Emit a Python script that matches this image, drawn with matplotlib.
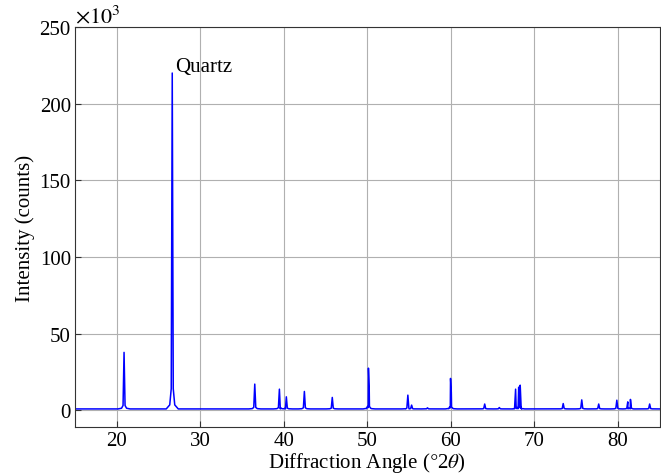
import numpy as np
import matplotlib
matplotlib.use("Agg")
import matplotlib.pyplot as plt

# ── Data (intensities in 10^3 counts) ─────────────────────────────────────────
BASELINE   = 0.8
peak_pos   = [20.87, 26.64, 36.52, 39.47, 40.30, 42.46, 45.80, 50.13, 50.22,
              54.85, 55.30, 57.20, 59.96, 60.05, 64.05, 65.80, 67.75, 68.12,
              68.30, 73.45, 75.67, 77.70, 79.87, 81.18, 81.50, 83.80]
peak_height = [37.7, 220.0, 17.0, 13.7, 8.7, 12.2, 8.3, 27.4, 15.0,
               9.8, 3.3, 1.5, 20.7, 11.7, 4.0, 1.7, 13.7, 15.0,
               16.3, 4.3, 6.7, 4.0, 6.5, 5.4, 7.0, 4.0]
X_MIN, X_MAX = 15, 85
# ──────────────────────────────────────────────────────────────────────────────

plt.rcParams["font.family"] = ["Liberation Serif", "DejaVu Serif"]
plt.rcParams["mathtext.fontset"] = "stix"


def build_trace(pos, height, base, hw=0.12):
    """Stick peaks turned into a polyline: base - foot - top - foot - base."""
    pts = [(X_MIN, base), (X_MAX, base)]
    for p, h in zip(pos, height):
        pts += [(p - 6 * hw, base), (p - 2.5 * hw, base + 0.012 * h),
                (p - hw, base + 0.06 * h), (p, h),
                (p + hw, base + 0.06 * h), (p + 2.5 * hw, base + 0.012 * h),
                (p + 6 * hw, base)]
    pts.sort(key=lambda t: t[0])
    xs = np.array([t[0] for t in pts])
    ys = np.array([t[1] for t in pts])
    return xs, ys


x, y = build_trace(peak_pos, peak_height, BASELINE)

fig = plt.figure(figsize=(6.61, 4.77), dpi=100)
ax = fig.add_axes([0.1135, 0.1027, 0.8845, 0.8385])

ax.plot(x, y, color="#0000ff", lw=1.1)
ax.text(27.0, 218.0, "Quartz", fontsize=15, ha="left", va="bottom")

ax.set_xlim(X_MIN, X_MAX)
ax.set_ylim(-11, 250)
ax.set_xticks([20, 30, 40, 50, 60, 70, 80])
ax.set_yticks([0, 50, 100, 150, 200, 250])
ax.tick_params(direction="in", labelsize=15, length=4, color="#333333", pad=3)
ax.grid(True, color="#b0b0b0", lw=0.8)
ax.set_axisbelow(True)
for s in ax.spines.values():
    s.set_color("#333333")

ax.set_xlabel(r"Diffraction Angle ($\degree$2$\theta$)", fontsize=15, labelpad=0)
ax.set_ylabel("Intensity (counts)", fontsize=15, labelpad=3)
ax.text(0.0, 1.0, r"$\times10^{3}$", transform=ax.transAxes, fontsize=16,
        ha="left", va="bottom")

fig.savefig("out.png", dpi=100)
